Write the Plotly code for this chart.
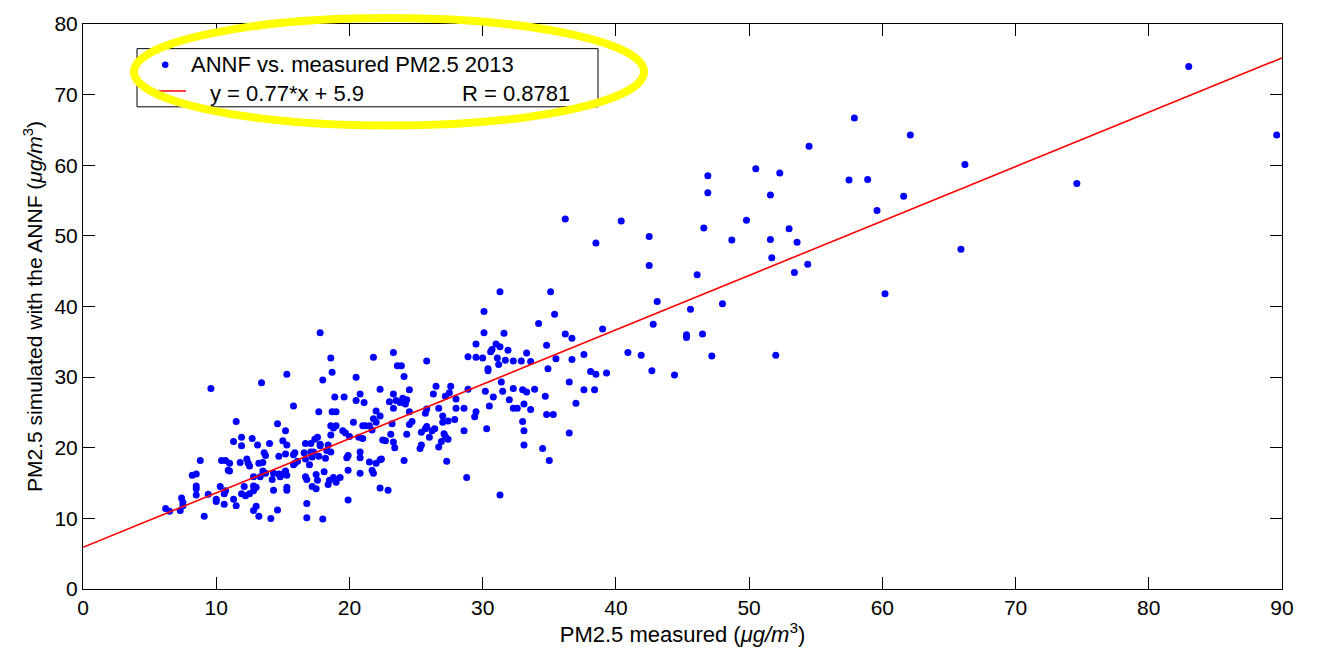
import plotly.graph_objects as go

# PM2.5 measured (x) and ANNF-simulated (y), 2013
pm_measured = [
    83.0, 89.6, 74.6, 57.9, 54.5, 62.1, 57.5, 58.9, 66.2, 61.6, 59.6, 54.4, 65.9, 60.2, 46.9, 50.5, 52.3,
    46.9, 51.6, 36.2, 40.4, 42.5, 38.5, 46.6, 49.8, 53.0, 48.7, 51.6, 53.6, 51.7, 53.4, 42.5, 46.1, 43.1,
    45.6, 48.0, 42.8, 39.0, 36.2, 36.7, 45.3, 45.3, 46.5, 52.0, 47.2, 40.9, 41.9, 37.6, 36.7, 38.1, 38.5,
    39.3, 42.7, 44.4,
    31.3, 35.1, 30.1, 35.4, 34.2, 30.1, 31.6, 29.5, 31.0, 31.3, 34.8, 30.7, 30.6, 31.9, 23.3, 28.9, 29.5,
    30.0, 31.1, 31.2, 31.7, 32.3, 32.9, 33.6, 33.3, 35.5, 25.8, 23.6, 23.9, 24.1, 34.9, 30.4, 30.4, 31.4,
    36.5, 26.5, 27.6, 24.5, 22.3, 28.9, 30.2, 31.5, 32.3, 33.0, 33.3, 33.9, 37.6, 38.4, 26.3, 27.5, 27.2,
    23.3, 34.7, 30.8, 28.0, 23.0, 23.5, 24.0, 24.3, 23.8, 24.2, 32.0, 33.1, 30.5, 32.3, 32.6, 33.6, 37.0,
    34.8, 35.3, 26.7, 25.8, 28.0, 28.6, 29.5, 29.4, 24.5, 25.7, 27.0, 22.3, 27.4, 27.9, 27.0, 23.2, 24.5,
    24.7, 25.8, 25.7, 26.4, 26.2, 26.0, 25.4, 27.1, 27.2, 27.4, 26.9, 26.7, 25.4, 25.3, 28.6, 30.3, 24.3,
    23.1, 22.5, 22.7, 23.3, 23.4, 36.5, 33.0, 33.1, 33.1, 34.5, 35.0, 27.3, 24.1, 22.3, 28.8, 31.3, 22.3,
    22.9, 23.3,
    17.8, 21.8, 18.6, 18.7, 15.3, 13.4, 18.0, 20.5, 18.9, 19.6, 20.8, 20.5, 21.1, 15.8, 17.7, 18.7, 19.0,
    22.0, 11.5, 14.6, 15.2, 18.6, 19.0, 18.8, 19.5, 19.7, 20.3, 21.0, 21.2, 21.8, 22.0, 21.7, 21.5, 18.6,
    17.6, 17.8, 17.4, 16.7, 17.1, 18.4, 20.0, 20.7, 21.0, 11.9, 11.9, 11.3, 12.7, 13.1, 14.0, 15.0, 15.3,
    13.6, 13.7, 14.7, 15.2, 15.8, 15.9, 16.6, 17.1, 17.3, 16.7, 17.0, 17.2, 17.7, 17.8, 18.6, 18.2, 18.3,
    19.8, 19.9, 20.8, 20.8, 21.5, 22.0, 22.4, 21.7, 21.8, 20.8, 19.9, 11.8, 12.4, 13.5, 13.2, 12.3, 13.5,
    13.7, 12.8, 13.3, 14.3, 14.7, 14.8, 15.0, 15.2, 15.3, 15.8, 15.9, 16.1, 16.7, 16.8, 17.5, 17.6, 18.1,
    18.5, 18.8, 19.0, 19.3, 18.4, 19.9, 17.2, 17.5, 16.8, 14.3, 15.3, 15.3, 14.6, 13.0, 11.3, 11.5, 12.2,
    12.5, 12.8, 13.0, 11.0, 11.0,
    9.6, 8.8, 8.2, 8.5, 8.5, 8.5, 8.5, 10.4, 10.7, 10.9, 12.5, 10.3, 9.4, 10.0, 10.0, 10.6, 12.1, 11.9,
    12.8, 14.2, 12.8, 13.2, 14.1, 16.8, 18.0, 9.1, 7.3, 7.5, 6.2, 6.5, 7.4, 7.5, 10.6, 10.7,
]
pm_simulated = [
    74.0, 64.3, 57.4, 66.7, 62.7, 64.3, 57.9, 58.0, 60.1, 55.6, 53.6, 46.0, 48.1, 41.8, 58.5, 59.5, 58.9,
    56.1, 55.8, 52.4, 52.1, 49.9, 49.0, 51.1, 52.2, 51.0, 49.4, 49.5, 49.1, 46.9, 44.8, 45.8, 44.5, 40.7,
    39.6, 40.4, 37.5, 36.8, 36.1, 35.5, 36.0, 35.6, 36.1, 33.1, 33.0, 33.5, 33.1, 33.2, 32.5, 30.8, 30.4,
    30.6, 30.9, 30.3,
    42.1, 42.1, 39.3, 38.9, 37.6, 36.3, 36.2, 34.7, 34.7, 34.3, 34.5, 33.9, 33.6, 33.8, 33.5, 32.9, 32.8,
    32.7, 32.7, 31.8, 32.4, 32.3, 32.3, 32.2, 33.4, 32.6, 32.3, 31.6, 31.6, 30.1, 31.2, 31.2, 30.9, 29.3,
    29.3, 28.7, 28.7, 28.2, 28.3, 28.3, 28.0, 28.0, 28.4, 28.2, 27.9, 28.3, 28.2, 28.2, 27.6, 27.8, 27.3,
    27.6, 27.3, 27.2, 26.9, 26.5, 26.7, 27.0, 26.8, 26.4, 26.2, 26.8, 26.2, 25.9, 25.6, 25.6, 25.4, 26.3,
    24.7, 24.7, 25.6, 25.5, 25.6, 25.6, 25.1, 24.4, 25.1, 24.9, 24.5, 24.5, 23.8, 24.0, 23.6, 23.4, 23.3,
    23.7, 23.0, 22.7, 22.7, 22.4, 21.5, 22.2, 22.0, 21.6, 21.2, 20.9, 20.1, 20.4, 19.9, 22.4, 22.7, 21.9,
    21.9, 21.1, 21.0, 20.8, 20.0, 22.1, 23.7, 22.4, 20.4, 19.9, 18.2, 18.1, 18.2, 18.3, 15.8, 13.3, 14.3,
    14.0, 25.6,
    36.3, 32.8, 32.7, 30.7, 30.4, 29.2, 29.6, 30.0, 27.2, 27.2, 27.6, 26.7, 26.4, 25.9, 25.1, 25.1, 25.1,
    25.2, 23.7, 23.4, 22.4, 23.1, 23.1, 22.8, 22.4, 22.1, 23.6, 23.1, 23.1, 24.1, 23.6, 22.5, 23.1, 21.8,
    21.5, 20.5, 21.2, 20.6, 20.6, 20.4, 21.6, 21.5, 21.3, 21.5, 20.3, 20.9, 21.3, 20.4, 20.6, 21.0, 20.4,
    19.3, 18.9, 18.8, 19.1, 19.0, 19.3, 19.3, 19.4, 19.4, 18.4, 17.6, 18.7, 18.8, 20.3, 19.4, 18.5, 19.6,
    18.6, 18.9, 19.4, 18.6, 18.0, 17.8, 18.4, 16.8, 16.4, 16.4, 16.8, 17.9, 17.8, 17.9, 17.8, 18.4, 16.7,
    16.4, 15.9, 15.9, 16.4, 16.3, 15.9, 16.3, 16.7, 16.1, 17.6, 17.8, 18.1, 15.9, 15.5, 16.2, 15.4, 16.6,
    15.4, 15.8, 15.1, 15.8, 14.8, 12.6, 14.5, 14.2, 12.1, 14.0, 14.4, 14.0, 11.2, 11.7, 12.7, 11.8, 13.2,
    13.5, 14.6, 14.4, 17.8, 16.7,
    28.4, 18.2, 16.1, 16.3, 14.6, 14.2, 13.3, 18.2, 18.2, 16.8, 17.4, 14.5, 13.4, 12.4, 12.7, 12.0, 14.5, 13.5,
    13.9, 15.5, 11.1, 10.3, 10.0, 10.1, 9.9, 10.3, 11.1, 11.8, 11.4, 11.0, 12.9, 12.3, 13.5, 13.9,
]

# Linear fit shown in the legend
fit_slope = 0.77
fit_intercept = 5.9
fit_r = 0.8781
series_label = "ANNF vs. measured PM2.5 2013"

x_range = [0, 90]
y_range = [0, 80]
x_ticks = list(range(0, 91, 10))
y_ticks = list(range(0, 81, 10))

fit_x = x_range
fit_y = [fit_slope * v + fit_intercept for v in fit_x]

FONT = "Liberation Sans, Arial, sans-serif"

# figure / plot-area geometry (pixels)
W, H = 1322, 653
PL, PR, PT, PB = 83, 1282, 20, 593


def px(xp):
    return (xp - PL) / (PR - PL)


def py(yp):
    return (PB - yp) / (PB - PT)


fig = go.Figure()
fig.add_trace(go.Scatter(
    x=pm_measured, y=pm_simulated, mode="markers",
    marker=dict(symbol="circle", size=7, color="#0000ff"),
    name=series_label, showlegend=False,
))
fig.add_trace(go.Scatter(
    x=fit_x, y=fit_y, mode="lines",
    line=dict(color="#ff0000", width=1.6),
    name=f"y = {fit_slope}*x + {fit_intercept}", showlegend=False,
))

axis_common = dict(
    showline=True, linecolor="black", linewidth=1, mirror="allticks",
    ticks="inside", ticklen=12, tickcolor="black", tickwidth=1,
    showgrid=False, zeroline=False,
    tickfont=dict(family=FONT, size=21, color="black"),
)

# hand-built legend box (MATLAB style) and the yellow highlight ellipse
shapes = [
    dict(type="rect", xref="paper", yref="paper",
         x0=px(137), x1=px(598), y0=py(104), y1=py(45),
         fillcolor="white", line=dict(color="black", width=1), layer="above"),
    dict(type="circle", xref="paper", yref="paper",
         x0=px(162), x1=px(168.5), y0=py(64.5), y1=py(58),
         fillcolor="#0000ff", line=dict(color="#0000ff", width=0), layer="above"),
    dict(type="line", xref="paper", yref="paper",
         x0=px(149), x1=px(186), y0=py(88), y1=py(88),
         line=dict(color="#ff0000", width=1.6), layer="above"),
    dict(type="circle", xref="paper", yref="paper",
         x0=px(134), x1=px(644), y0=py(123), y1=py(14),
         line=dict(color="#ffff00", width=8), layer="above"),
]

legend_font = dict(family=FONT, size=22, color="black")
annotations = [
    dict(text=series_label, xref="paper", yref="paper", x=px(189), y=py(61),
         xanchor="left", yanchor="middle", showarrow=False, font=legend_font),
    dict(text=f"y = {fit_slope}*x + {fit_intercept}", xref="paper", yref="paper",
         x=px(208), y=py(90), xanchor="left", yanchor="middle", showarrow=False, font=legend_font),
    dict(text=f"R = {fit_r}", xref="paper", yref="paper",
         x=px(460), y=py(90), xanchor="left", yanchor="middle", showarrow=False, font=legend_font),
]

fig.update_layout(
    width=W, height=H,
    margin=dict(l=PL, r=W - PR, t=PT, b=H - PB),
    paper_bgcolor="white", plot_bgcolor="white",
    font=dict(family=FONT, size=21, color="black"),
    xaxis=dict(range=x_range, tickvals=x_ticks,
               title=dict(text="PM2.5 measured (<i>\u03bcg/m</i><sup>3</sup>)",
                          font=dict(family=FONT, size=22), standoff=6),
               **axis_common),
    yaxis=dict(range=y_range, tickvals=y_ticks,
               title=dict(text="PM2.5 simulated with the ANNF (<i>\u03bcg/m</i><sup>3</sup>)",
                          font=dict(family=FONT, size=21), standoff=6),
               **axis_common),
    showlegend=False,
    shapes=shapes,
    annotations=annotations,
)

fig.write_html("out.html")
